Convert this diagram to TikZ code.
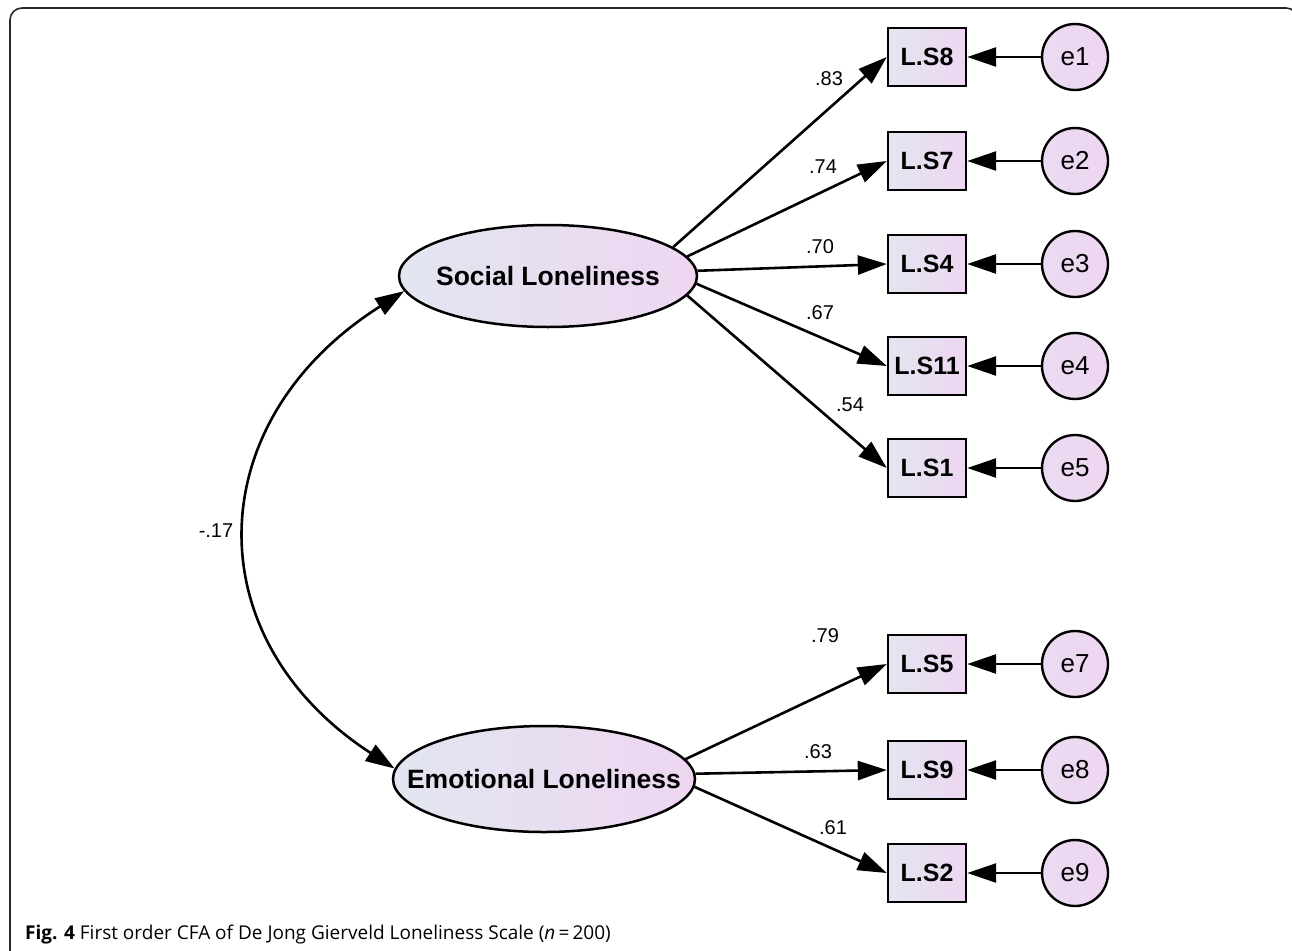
\documentclass[tikz,border=0pt]{standalone}
\usepackage{fontspec}
\setmainfont{Liberation Sans}
\newfontfamily\capfont{Open Sans}
\usetikzlibrary{arrows.meta,shapes.geometric}
\definecolor{gl}{RGB}{226,230,240}
\definecolor{gr}{RGB}{238,214,241}
\definecolor{framec}{RGB}{40,40,40}
\begin{document}
\begin{tikzpicture}[x=1pt,y=-1pt,
  latent/.style={ellipse,draw,line width=2.5pt,left color=gl,right color=gr,minimum width=298pt,minimum height=102pt,inner sep=0pt,font=\fontsize{26.5}{30}\selectfont\bfseries},
  obs/.style={rectangle,draw,line width=2.4pt,left color=gl,right color=gr,minimum width=78pt,minimum height=58pt,inner sep=0pt,font=\fontsize{25}{28}\selectfont\bfseries},
  err/.style={circle,draw,line width=2.4pt,left color=gr!70!gl,right color=gr,minimum size=66pt,inner sep=0pt,font=\fontsize{26}{28}\selectfont},
  tipA/.tip={Triangle[length=29pt,width=19pt]},
  load/.style={line width=2.6pt,-tipA},
  covar/.style={line width=2.6pt,tipA-tipA},
  lab/.style={font=\fontsize{20}{24}\selectfont,inner sep=0pt},
  framebox/.style={draw=framec,line width=1.6pt,rounded corners=12pt}
]
\useasboundingbox (0,0) rectangle (1292,950);
\draw[framebox] (10,960) -- (10,8) -- (1298,8) -- (1298,960);

% latent variables
\node[latent] (soc) at (548,276) {\makebox[0pt][c]{Social Loneliness}};
\node[latent,minimum width=302pt,minimum height=106pt] (emo) at (544,779) {\makebox[0pt][c]{Emotional Loneliness}};

% observed variables
\node[obs] (ls8)  at (927,57)  {L.S8};
\node[obs] (ls7)  at (927,161) {L.S7};
\node[obs] (ls4)  at (927,264) {L.S4};
\node[obs] (ls11) at (927,366) {L.S11};
\node[obs] (ls1)  at (927,468) {L.S1};
\node[obs] (ls5)  at (927,664) {L.S5};
\node[obs] (ls9)  at (927,770) {L.S9};
\node[obs] (ls2)  at (927,873) {L.S2};

% error terms
\node[err] (e1) at (1075,57)  {e1};
\node[err] (e2) at (1075,161) {e2};
\node[err] (e3) at (1075,264) {e3};
\node[err] (e4) at (1075,366) {e4};
\node[err] (e5) at (1075,468) {e5};
\node[err] (e7) at (1075,664) {e7};
\node[err] (e8) at (1075,770) {e8};
\node[err] (e9) at (1075,873) {e9};

% loadings
\draw[load] (soc.13)   -- (ls8.west);
\draw[load] (soc.8.5)  -- (ls7.west);
\draw[load] (soc.2.7)  -- (ls4.west);
\draw[load] (soc.-3.5) -- (ls11.west);
\draw[load] (soc.-8.8) -- (ls1.west);
\draw[load] (emo.8)    -- (ls5.west);
\draw[load] (emo.2.3)  -- (ls9.west);
\draw[load] (emo.-3.5) -- (ls2.west);

% error paths
\draw[load] (e1.west) -- (ls8.east);
\draw[load] (e2.west) -- (ls7.east);
\draw[load] (e3.west) -- (ls4.east);
\draw[load] (e4.west) -- (ls11.east);
\draw[load] (e5.west) -- (ls1.east);
\draw[load] (e7.west) -- (ls5.east);
\draw[load] (e8.west) -- (ls9.east);
\draw[load] (e9.west) -- (ls2.east);

% covariance
\draw[covar] (soc.186) .. controls +(-205,130) and +(-200,-130) .. (emo.176);

% labels
\node[lab] (l83) at (829,79)  {.83};
\node[lab] (l74) at (823,167) {.74};
\node[lab] (l70) at (820,247) {.70};
\node[lab] (l67) at (820,313) {.67};
\node[lab] (l54) at (850,405) {.54};
\node[lab] (l79) at (825,636) {.79};
\node[lab] (l63) at (818,752) {.63};
\node[lab] (l61) at (833,828) {.61};
\node[lab] (l17) at (216,531) {-.17};

% caption
\node[anchor=base west,inner sep=0pt,font=\capfont\fontsize{19}{22}\selectfont] (cap) at (25,939)
  {\textbf{Fig. 4} First order CFA of De Jong Gierveld Loneliness Scale (\textit{n}\,=\,200)};
\end{tikzpicture}
\end{document}
